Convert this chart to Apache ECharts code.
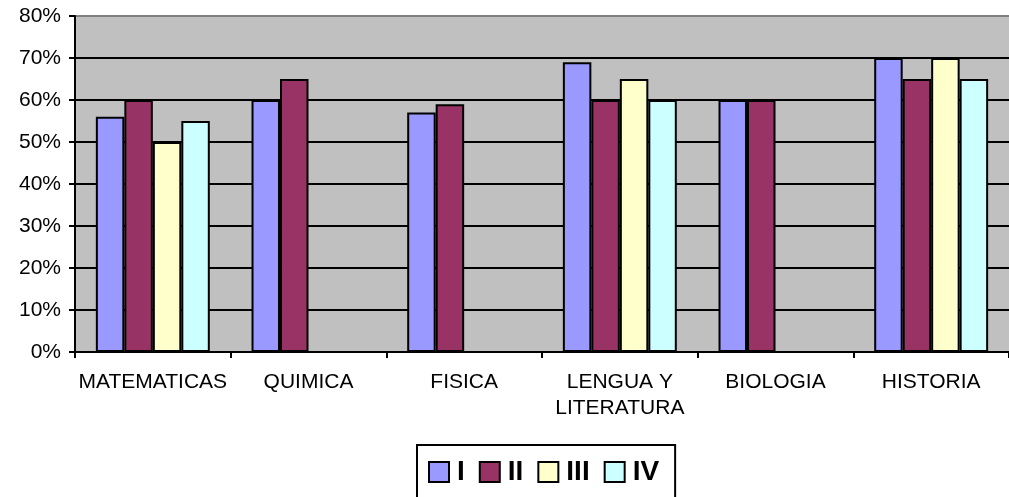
<!DOCTYPE html>
<html>
<head>
<meta charset="utf-8">
<script src="https://cdn.jsdelivr.net/npm/echarts@6/dist/echarts.min.js"></script>
<style>
  html, body { margin: 0; padding: 0; background: #fff; }
  #chart { width: 1009px; height: 497px; }
</style>
</head>
<body>
<div id="chart"></div>
<script>
const categories = ["MATEMATICAS", "QUIMICA", "FISICA", "LENGUA Y\nLITERATURA", "BIOLOGIA", "HISTORIA"];
const seriesNames = ["I", "II", "III", "IV"];
const serieI = [56, 60, 57, 69, 60, 70];
const serieII = [60, 65, 59, 60, 60, 65];
const serieIII = [50, null, null, 65, null, 70];
const serieIV = [55, null, null, 60, null, 65];
const colors = ["#9999FF", "#993366", "#FFFFCC", "#CCFFFF"];

const chart = echarts.init(document.getElementById("chart"));

const makeSeries = (name, data, color) => ({
  name: name,
  type: "bar",
  data: data,
  barGap: 0,
  barCategoryGap: "26.8%",
  itemStyle: { color: color, borderColor: "#000", borderWidth: 2 },
});

// top line of the plot is grey, the rest black
const gridColors = ["#000", "#000", "#000", "#000", "#000", "#000", "#000", "#000", "#808080"];

const option = {
  animation: false,
  textStyle: { fontFamily: "Liberation Sans, Arial, sans-serif" },
  grid: {
    left: 75,
    top: 16,
    width: 942,
    height: 336,
    show: true,
    backgroundColor: "#C0C0C0",
    borderWidth: 0,
  },
  legend: {
    left: 417,
    top: 445,
    padding: [13, 16, 30, 11],
    itemWidth: 20,
    itemHeight: 20,
    itemGap: 14,
    borderColor: "#000",
    borderWidth: 2,
    icon: "rect",
    itemStyle: { borderColor: "#000", borderWidth: 2 },
    textStyle: { fontSize: 28, fontWeight: "bold", color: "#000", padding: [0, 0, 0, 3] },
    data: seriesNames,
  },
  xAxis: {
    type: "category",
    data: categories,
    axisLine: { lineStyle: { color: "#000", width: 2 } },
    axisTick: { show: true, length: 6, lineStyle: { color: "#000", width: 2 } },
    axisLabel: { color: "#000", fontSize: 21, margin: 17, lineHeight: 26, interval: 0 },
  },
  yAxis: {
    type: "value",
    min: 0,
    max: 80,
    interval: 10,
    axisLine: { show: true, lineStyle: { color: "#000", width: 2 } },
    axisTick: { show: true, length: 6, lineStyle: { color: "#000", width: 2 } },
    axisLabel: { color: "#000", fontSize: 21, margin: 14, formatter: "{value}%" },
    splitLine: { show: true, lineStyle: { color: gridColors, width: 2 } },
  },
  series: [
    makeSeries(seriesNames[0], serieI, colors[0]),
    makeSeries(seriesNames[1], serieII, colors[1]),
    makeSeries(seriesNames[2], serieIII, colors[2]),
    makeSeries(seriesNames[3], serieIV, colors[3]),
  ],
};
chart.setOption(option);
</script>
</body>
</html>
